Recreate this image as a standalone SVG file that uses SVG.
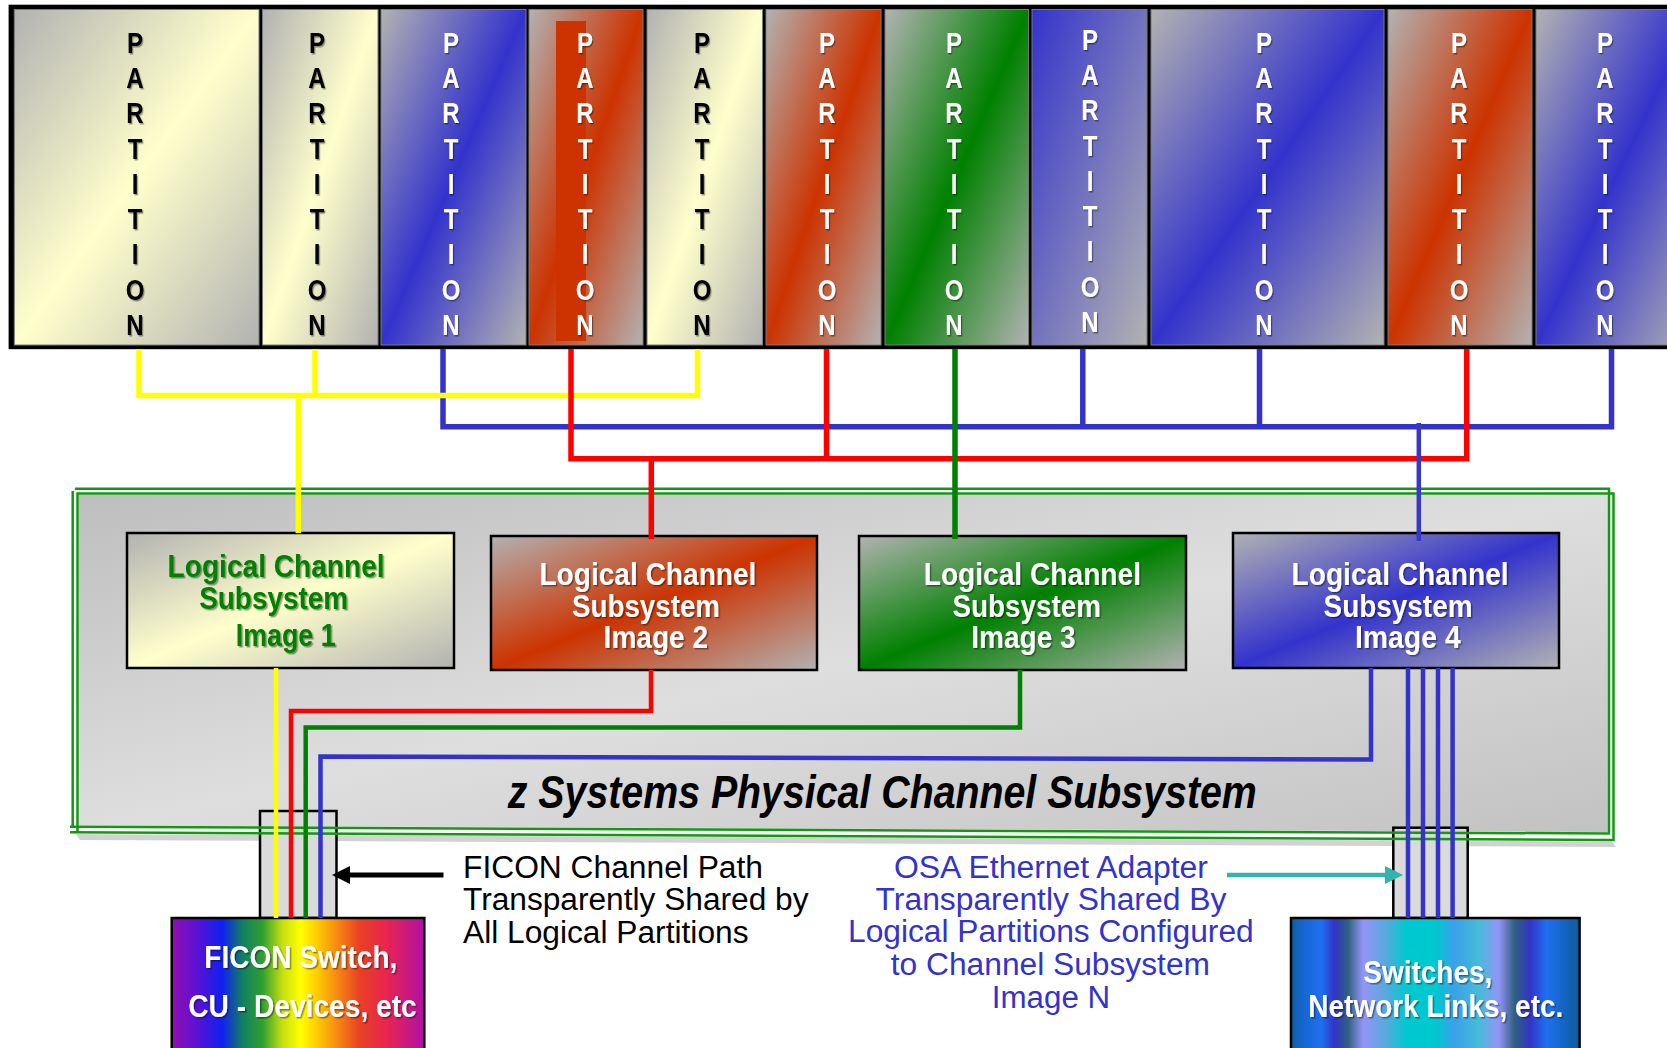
<svg xmlns="http://www.w3.org/2000/svg" width="1667" height="1048" viewBox="0 0 1667 1048">
<defs>
  <linearGradient id="gY" x1="0" y1="0" x2="1" y2="1"><stop offset="0" stop-color="#B2B2B2"/><stop offset="0.5" stop-color="#FFFFCC"/><stop offset="1" stop-color="#B2B2B2"/></linearGradient>
  <linearGradient id="gB" x1="0" y1="0" x2="1" y2="1"><stop offset="0" stop-color="#B2B2B2"/><stop offset="0.5" stop-color="#3333CC"/><stop offset="1" stop-color="#B2B2B2"/></linearGradient>
  <linearGradient id="gR" x1="0" y1="0" x2="1" y2="1"><stop offset="0" stop-color="#B2B2B2"/><stop offset="0.5" stop-color="#CC3300"/><stop offset="1" stop-color="#B2B2B2"/></linearGradient>
  <linearGradient id="gG" x1="0" y1="0" x2="1" y2="1"><stop offset="0" stop-color="#B2B2B2"/><stop offset="0.5" stop-color="#008000"/><stop offset="1" stop-color="#B2B2B2"/></linearGradient>
  <linearGradient id="gBG" x1="0" y1="0" x2="1" y2="1"><stop offset="0" stop-color="#3333CC"/><stop offset="1" stop-color="#B2B2B2"/></linearGradient>
  <linearGradient id="gBox" x1="0" y1="0" x2="1" y2="1"><stop offset="0" stop-color="#BEBEBE"/><stop offset="0.5" stop-color="#DEDEDE"/><stop offset="1" stop-color="#C2C2C2"/></linearGradient>
  <linearGradient id="gRainbow" x1="0" y1="0" x2="1" y2="0">
    <stop offset="0" stop-color="#9010B0"/><stop offset="0.085" stop-color="#6510D0"/><stop offset="0.2" stop-color="#1020F0"/>
    <stop offset="0.28" stop-color="#108060"/><stop offset="0.36" stop-color="#30A030"/><stop offset="0.44" stop-color="#C8E010"/>
    <stop offset="0.51" stop-color="#FFFF00"/><stop offset="0.57" stop-color="#FFD000"/><stop offset="0.665" stop-color="#F58015"/>
    <stop offset="0.745" stop-color="#E84025"/><stop offset="0.85" stop-color="#E82550"/><stop offset="1" stop-color="#B010A8"/>
  </linearGradient>
  <linearGradient id="gNet" x1="0" y1="0" x2="1" y2="0">
    <stop offset="0" stop-color="#0F5EA0"/><stop offset="0.04" stop-color="#1565D0"/><stop offset="0.105" stop-color="#1E70F0"/>
    <stop offset="0.15" stop-color="#3333C8"/><stop offset="0.197" stop-color="#2F6080"/><stop offset="0.25" stop-color="#9494F8"/>
    <stop offset="0.33" stop-color="#55AADD"/><stop offset="0.40" stop-color="#00C8D0"/><stop offset="0.50" stop-color="#00C8D0"/>
    <stop offset="0.565" stop-color="#3BA0E8"/><stop offset="0.65" stop-color="#45BCD8"/><stop offset="0.72" stop-color="#9494F8"/>
    <stop offset="0.775" stop-color="#2F6080"/><stop offset="0.83" stop-color="#3333C8"/><stop offset="0.885" stop-color="#1E70F0"/>
    <stop offset="0.97" stop-color="#1060B0"/><stop offset="1" stop-color="#0F5EA0"/>
  </linearGradient>
  <filter id="sh" x="-20%" y="-20%" width="140%" height="140%">
    <feDropShadow dx="1.5" dy="1.5" stdDeviation="0.6" flood-color="#000" flood-opacity="0.4"/>
  </filter>
  <marker id="ahK" markerUnits="userSpaceOnUse" markerWidth="18" markerHeight="18" viewBox="0 0 18 18" refX="0" refY="9" orient="auto">
    <path d="M0,0 L18,9 L0,18 z" fill="#000"/>
  </marker>
  <marker id="ahT" markerUnits="userSpaceOnUse" markerWidth="18" markerHeight="18" viewBox="0 0 18 18" refX="0" refY="9" orient="auto">
    <path d="M0,0 L18,9 L0,18 z" fill="#33B3AD"/>
  </marker>
</defs>
<style>
  .part { stroke:#7a7a7a; stroke-width:1; }
  .pl { font-family:"Liberation Sans", Arial, sans-serif; font-weight:bold; font-size:30px; text-anchor:middle; filter:url(#sh); }
  .lc { stroke:#000; stroke-width:2.5; }
  .lt { font-family:"Liberation Sans", Arial, sans-serif; font-weight:bold; font-size:32px; filter:url(#sh); }
  .bt { font-family:"Liberation Sans", Arial, sans-serif; font-weight:bold; font-size:32px; fill:#fff; filter:url(#sh); }
  .an { font-family:"Liberation Sans", Arial, sans-serif; font-size:31px; }
  .ttl { font-family:"Liberation Sans", Arial, sans-serif; font-weight:bold; font-style:italic; font-size:46px; fill:#000; }
  .gl { fill:none; stroke:#119911; stroke-width:2.5; }
  .c { fill:none; stroke-linejoin:miter; stroke-linecap:butt; }
  .y { stroke:#FFFF00; } .r { stroke:#FF0000; } .b { stroke:#3333CC; } .g { stroke:#008000; }
  .w5 { stroke-width:5.5; } .w4 { stroke-width:4.5; }
  .sbox { fill:#DADADA; stroke:#000; stroke-width:2.5; }
</style>

<rect x="0" y="0" width="1667" height="1048" fill="#fff"/>

<!-- Partition row -->
<g id="partition-row">
  <rect x="8.6" y="4.7" width="1680" height="344.5" fill="#000"/>
  <g id="p1"><rect class="part" x="14.3" y="9.5" width="244.7" height="335.5" fill="url(#gY)"/>
    <text class="pl" fill="#000" transform="translate(135,0) scale(0.8,1)" x="0 0 0 0 0 0 0 0 0" y="53 88.25 123.5 158.75 194 229.25 264.5 299.75 335">PARTITION</text></g>
  <g id="p2"><rect class="part" x="262.5" y="9.5" width="115.5" height="335.5" fill="url(#gY)"/>
    <text class="pl" fill="#000" transform="translate(317,0) scale(0.8,1)" x="0 0 0 0 0 0 0 0 0" y="53 88.25 123.5 158.75 194 229.25 264.5 299.75 335">PARTITION</text></g>
  <g id="p3"><rect class="part" x="381" y="9.5" width="145" height="335.5" fill="url(#gB)"/>
    <text class="pl" fill="#fff" transform="translate(451,0) scale(0.8,1)" x="0 0 0 0 0 0 0 0 0" y="53 88.25 123.5 158.75 194 229.25 264.5 299.75 335">PARTITION</text></g>
  <g id="p4"><rect class="part" x="529" y="9.5" width="114" height="335.5" fill="url(#gR)"/>
    <rect x="556" y="21" width="30" height="320" fill="#CC3300"/>
    <text class="pl" fill="#fff" transform="translate(585,0) scale(0.8,1)" x="0 0 0 0 0 0 0 0 0" y="53 88.25 123.5 158.75 194 229.25 264.5 299.75 335">PARTITION</text></g>
  <g id="p5"><rect class="part" x="647" y="9.5" width="115.5" height="335.5" fill="url(#gY)"/>
    <text class="pl" fill="#000" transform="translate(702,0) scale(0.8,1)" x="0 0 0 0 0 0 0 0 0" y="53 88.25 123.5 158.75 194 229.25 264.5 299.75 335">PARTITION</text></g>
  <g id="p6"><rect class="part" x="766" y="9.5" width="115" height="335.5" fill="url(#gR)"/>
    <text class="pl" fill="#fff" transform="translate(827,0) scale(0.8,1)" x="0 0 0 0 0 0 0 0 0" y="53 88.25 123.5 158.75 194 229.25 264.5 299.75 335">PARTITION</text></g>
  <g id="p7"><rect class="part" x="885" y="9.5" width="143.6" height="335.5" fill="url(#gG)"/>
    <text class="pl" fill="#fff" transform="translate(954,0) scale(0.8,1)" x="0 0 0 0 0 0 0 0 0" y="53 88.25 123.5 158.75 194 229.25 264.5 299.75 335">PARTITION</text></g>
  <g id="p8"><rect class="part" x="1032" y="9.5" width="115" height="335.5" fill="url(#gBG)"/>
    <text class="pl" fill="#fff" transform="translate(1090,-3) scale(0.8,1)" x="0 0 0 0 0 0 0 0 0" y="53 88.25 123.5 158.75 194 229.25 264.5 299.75 335">PARTITION</text></g>
  <g id="p9"><rect class="part" x="1151" y="9.5" width="233" height="335.5" fill="url(#gB)"/>
    <text class="pl" fill="#fff" transform="translate(1264,0) scale(0.8,1)" x="0 0 0 0 0 0 0 0 0" y="53 88.25 123.5 158.75 194 229.25 264.5 299.75 335">PARTITION</text></g>
  <g id="p10"><rect class="part" x="1388" y="9.5" width="144" height="335.5" fill="url(#gR)"/>
    <text class="pl" fill="#fff" transform="translate(1459,0) scale(0.8,1)" x="0 0 0 0 0 0 0 0 0" y="53 88.25 123.5 158.75 194 229.25 264.5 299.75 335">PARTITION</text></g>
  <g id="p11"><rect class="part" x="1536" y="9.5" width="160" height="335.5" fill="url(#gB)"/>
    <text class="pl" fill="#fff" transform="translate(1605,0) scale(0.8,1)" x="0 0 0 0 0 0 0 0 0" y="53 88.25 123.5 158.75 194 229.25 264.5 299.75 335">PARTITION</text></g>
</g>

<!-- Physical channel subsystem box -->
<g id="pcss">
  <polygon points="76,834 1612,841.5 1616,847 80,840" fill="#D2D2D2"/>
  <polygon points="78.7,494.7 1607.8,494.7 1607.8,832 78.7,825.5" fill="url(#gBox)"/>
  <rect id="ficon-port" class="sbox" x="260" y="811" width="76.5" height="107"/>
  <rect id="osa-port" class="sbox" x="1393.3" y="827.7" width="74.4" height="90.3" stroke-width="2"/>
  <path class="gl" d="M72.7,826.7 V491 M75,488.8 H1609 V833.5 L70,826.7"/>
  <path class="gl" d="M77.5,832.3 V493.5 H1613.5 V840 L70,832.3"/>
  <text class="ttl" x="507.8" y="808" textLength="749" lengthAdjust="spacingAndGlyphs">z Systems Physical Channel Subsystem</text>
</g>

<g id="lcss1">
  <rect class="lc" x="127" y="533" width="327" height="135" fill="url(#gY)"/>
  <text class="lt" fill="#008000" x="167.6" y="577" textLength="217" lengthAdjust="spacingAndGlyphs">Logical Channel</text>
  <text class="lt" fill="#008000" x="199.2" y="609.3" textLength="149" lengthAdjust="spacingAndGlyphs">Subsystem</text>
  <text class="lt" fill="#008000" x="235.7" y="646" textLength="100" lengthAdjust="spacingAndGlyphs">Image 1</text>
</g>
<g id="lcss2">
  <rect class="lc" x="491" y="536" width="326" height="134" fill="url(#gR)"/>
  <text class="lt" fill="#fff" x="539.4" y="585" textLength="217" lengthAdjust="spacingAndGlyphs">Logical Channel</text>
  <text class="lt" fill="#fff" x="572" y="617" textLength="148" lengthAdjust="spacingAndGlyphs">Subsystem</text>
  <text class="lt" fill="#fff" x="603.6" y="648" textLength="104.5" lengthAdjust="spacingAndGlyphs">Image 2</text>
</g>
<g id="lcss3">
  <rect class="lc" x="859" y="536" width="327" height="134" fill="url(#gG)"/>
  <text class="lt" fill="#fff" x="923.7" y="585" textLength="217.3" lengthAdjust="spacingAndGlyphs">Logical Channel</text>
  <text class="lt" fill="#fff" x="952.4" y="617" textLength="148.6" lengthAdjust="spacingAndGlyphs">Subsystem</text>
  <text class="lt" fill="#fff" x="971.3" y="648" textLength="104.3" lengthAdjust="spacingAndGlyphs">Image 3</text>
</g>
<g id="lcss4">
  <rect class="lc" x="1233" y="533" width="326" height="135" fill="url(#gB)"/>
  <text class="lt" fill="#fff" x="1291.6" y="585" textLength="217" lengthAdjust="spacingAndGlyphs">Logical Channel</text>
  <text class="lt" fill="#fff" x="1323.5" y="617" textLength="149" lengthAdjust="spacingAndGlyphs">Subsystem</text>
  <text class="lt" fill="#fff" x="1354.9" y="648" textLength="105.8" lengthAdjust="spacingAndGlyphs">Image 4</text>
</g>

<g id="ficon-switch">
  <rect x="171.7" y="918" width="252.6" height="145" fill="url(#gRainbow)" stroke="#000" stroke-width="2.5"/>
  <text class="bt" x="204.3" y="968.3" textLength="193" lengthAdjust="spacingAndGlyphs">FICON Switch,</text>
  <text class="bt" x="188.3" y="1016.7" textLength="228.4" lengthAdjust="spacingAndGlyphs">CU - Devices, etc</text>
</g>
<g id="switches">
  <rect x="1291" y="918" width="288.6" height="145" fill="url(#gNet)" stroke="#000" stroke-width="2.5"/>
  <text class="bt" x="1363.3" y="983.3" textLength="129" lengthAdjust="spacingAndGlyphs">Switches,</text>
  <text class="bt" x="1308.3" y="1016.7" textLength="255" lengthAdjust="spacingAndGlyphs">Network Links, etc.</text>
</g>

<!-- Connectors -->
<g id="connectors">
  <path class="c b w5" d="M443,349 V426.7 H1611.5 V349 M1082.8,349 V426.7 M1259.5,349 V426.7"/>
  <path class="c y w5" d="M139,349 V395.5 H697.5 V349 M315,349 V395.5"/>
  <path class="c y w5" d="M298.3,395.5 V533"/>
  <path class="c r w5" d="M571,349 V458.8 H1466.7 V349 M826.5,349 V458.8 M651.3,458.8 V539"/>
  <path class="c g w5" d="M955,349 V539"/>
  <path class="c w4" stroke="#3838C8" d="M1418.8,423 V541"/>

  <path class="c y w4" d="M276,668 V918"/>
  <path class="c r w4" d="M651,670 V711 H291 V918"/>
  <path class="c g w4" d="M1020,670 V727.5 H305.7 V918"/>
  <path class="c b w4" d="M1371,668 V759.5 L320.5,756.5 V918"/>
  <path class="c b w4" d="M1408,668 V918 M1423,668 V918 M1438,668 V918 M1452.6,668 V918"/>

  <line x1="443.5" y1="875" x2="350" y2="875" stroke="#000" stroke-width="5" marker-end="url(#ahK)"/>
  <line x1="1227" y1="875" x2="1385" y2="875" stroke="#33B3AD" stroke-width="4.5" marker-end="url(#ahT)"/>
</g>

<!-- Annotations -->
<g id="ficon-note">
  <text class="an" fill="#000" x="463" y="878" textLength="300" lengthAdjust="spacingAndGlyphs">FICON Channel Path</text>
  <text class="an" fill="#000" x="463" y="910" textLength="345.5" lengthAdjust="spacingAndGlyphs">Transparently Shared by</text>
  <text class="an" fill="#000" x="463" y="942.7" textLength="285.5" lengthAdjust="spacingAndGlyphs">All Logical Partitions</text>
</g>
<g id="osa-note">
  <text class="an" fill="#3333CC" x="894" y="877.7" textLength="314" lengthAdjust="spacingAndGlyphs">OSA Ethernet Adapter</text>
  <text class="an" fill="#3333CC" x="875.6" y="910" textLength="350.7" lengthAdjust="spacingAndGlyphs">Transparently Shared By</text>
  <text class="an" fill="#3333CC" x="848" y="942" textLength="405.7" lengthAdjust="spacingAndGlyphs">Logical Partitions Configured</text>
  <text class="an" fill="#3333CC" x="890.8" y="975" textLength="319.2" lengthAdjust="spacingAndGlyphs">to Channel Subsystem</text>
  <text class="an" fill="#3333CC" x="991.8" y="1007.7" textLength="118.3" lengthAdjust="spacingAndGlyphs">Image N</text>
</g>
</svg>
